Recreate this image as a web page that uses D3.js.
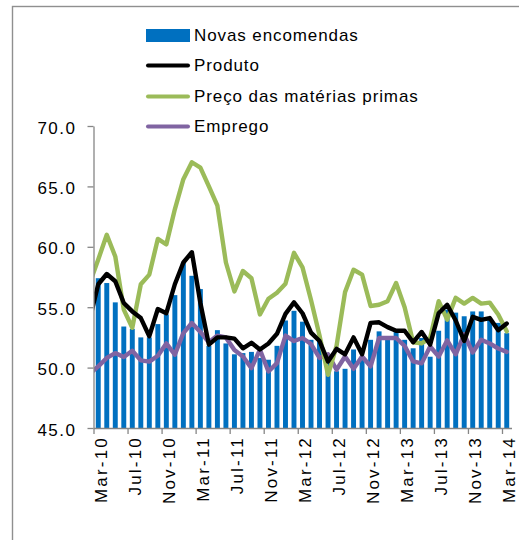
<!DOCTYPE html>
<html>
<head>
<meta charset="utf-8">
<script src="https://cdn.jsdelivr.net/npm/d3@7/dist/d3.min.js"></script>
<style>
  html, body { margin: 0; padding: 0; background: #fff; }
  svg { display: block; font-family: "Liberation Sans", Arial, sans-serif; }
</style>
</head>
<body>
<svg id="chart" width="519" height="540"></svg>
<script>
// ---- Data ----
const categories = ["Mar-10","Apr-10","May-10","Jun-10","Jul-10","Aug-10","Sep-10","Oct-10","Nov-10","Dec-10",
  "Jan-11","Feb-11","Mar-11","Apr-11","May-11","Jun-11","Jul-11","Aug-11","Sep-11","Oct-11","Nov-11","Dec-11",
  "Jan-12","Feb-12","Mar-12","Apr-12","May-12","Jun-12","Jul-12","Aug-12","Sep-12","Oct-12","Nov-12","Dec-12",
  "Jan-13","Feb-13","Mar-13","Apr-13","May-13","Jun-13","Jul-13","Aug-13","Sep-13","Oct-13","Nov-13","Dec-13",
  "Jan-14","Feb-14","Mar-14"];
// the line series also carry the month before the axis start (Feb-10), clipped by the plot area
const lineStart = "Feb-10";

const novasEncomendas = [57.4,57.0,55.4,53.4,53.2,52.5,52.5,53.6,54.4,56.0,
  58.7,57.6,56.5,51.8,53.1,52.0,51.1,51.2,51.3,50.8,50.65,51.8,
  53.9,54.7,53.8,52.3,52.3,50.4,49.7,49.9,51.5,50.9,52.3,53.0,
  52.3,53.1,52.3,51.6,52.45,50.9,53.05,54.8,54.55,54.25,54.65,54.65,
  53.95,53.7,52.85];

const produto = [54.0,
  56.9,57.75,57.15,55.35,54.65,54.1,52.6,54.85,54.5,56.9,
  58.7,59.55,55.35,51.9,52.5,52.5,52.4,51.6,52.05,51.5,52.0,52.8,
  54.45,55.4,54.5,52.9,52.2,50.5,51.55,51.1,52.5,51.1,53.7,53.75,
  53.35,53.05,53.05,52.1,52.95,51.9,54.5,55.2,53.9,52.2,54.2,53.95,
  54.1,53.1,53.65];

const precoMateriasPrimas = [57.0,
  58.95,61.0,59.2,54.8,53.3,56.9,57.7,60.65,60.2,63.1,
  65.6,67.0,66.55,65.0,63.4,58.7,56.3,58.0,57.4,54.4,55.7,56.2,
  56.95,59.5,58.3,55.6,52.65,49.4,51.8,56.25,58.1,57.7,55.1,55.2,
  55.5,57.0,55.0,52.1,52.0,52.45,55.5,53.97,55.77,55.3,55.77,55.3,
  55.38,54.4,53.0];

const emprego = [49.5,
  50.1,50.8,51.2,50.87,51.4,50.6,50.5,50.98,52.0,51.06,
  52.86,53.69,52.95,52.1,52.65,52.5,51.45,50.92,49.96,51.48,49.68,50.37,
  52.65,52.2,52.45,51.95,50.8,51.1,49.82,50.92,49.9,50.92,50.1,52.45,
  52.45,52.45,51.8,50.51,50.35,51.75,50.92,52.25,51.1,52.75,51.25,52.3,
  52.0,51.58,51.3];

const yTicks = [45,50,55,60,65,70];
const xTickLabels = ["Mar-10","Jul-10","Nov-10","Mar-11","Jul-11","Nov-11","Mar-12","Jul-12","Nov-12","Mar-13","Jul-13","Nov-13","Mar-14"];

const seriesNames = ["Novas encomendas","Produto","Preço das matérias primas","Emprego"];
const colors = { bars: "#0070C0", produto: "#000000", preco: "#9BBB59", emprego: "#8064A2" };

// ---- Layout ----
const svg = d3.select("#chart");
const plotL = 94, plotR = 511, plotT = 126, plotB = 428;
const axisColor = "#868686";

// outer frame (runs off the right and bottom edges)
svg.append("rect").attr("x", 12.5).attr("y", 6.5).attr("width", 560).attr("height", 580)
  .attr("fill", "none").attr("stroke", "#8f8f8f").attr("stroke-width", 1.4);

const y = d3.scaleLinear().domain([45, 70]).range([plotB, plotT]);
const x = d3.scaleBand().domain(categories).range([plotL, plotR]).paddingInner(0.42).paddingOuter(0.21);
const xi = d3.scaleLinear().domain([-0.5, categories.length - 0.5]).range([plotL, plotR]);

// bars
svg.append("g").selectAll("rect").data(novasEncomendas).join("rect")
  .attr("x", (d, i) => x(categories[i]))
  .attr("width", x.bandwidth())
  .attr("y", d => y(d))
  .attr("height", d => y(45) - y(d))
  .attr("fill", colors.bars);

// clip for lines
svg.append("clipPath").attr("id", "plotClip").append("rect")
  .attr("x", plotL).attr("y", 0).attr("width", 440).attr("height", 540);

const lineGen = d3.line().x((d, i) => xi(i - 1)).y(d => y(d)).curve(d3.curveLinear);
const lines = [
  { data: emprego, color: colors.emprego },
  { data: precoMateriasPrimas, color: colors.preco },
  { data: produto, color: colors.produto }
];
const lg = svg.append("g").attr("clip-path", "url(#plotClip)");
lines.forEach(s => {
  lg.append("path").datum(s.data).attr("d", lineGen)
    .attr("fill", "none").attr("stroke", s.color).attr("stroke-width", 4.4)
    .attr("stroke-linejoin", "round").attr("stroke-linecap", "round");
});

// y axis
const yAxis = svg.append("g").attr("transform", "translate(93.5,0)")
  .call(d3.axisLeft(y).tickValues(yTicks).tickFormat(d3.format(".1f")).tickSize(6).tickSizeOuter(0).tickPadding(11));
yAxis.select(".domain").attr("stroke", axisColor).attr("stroke-width", 1.3);
yAxis.selectAll(".tick line").attr("stroke", axisColor).attr("stroke-width", 1.3);
yAxis.selectAll(".tick text").attr("font-size", 17).attr("fill", "#000")
  .attr("letter-spacing", "1.5px").attr("dy", "0.42em")
  .attr("font-family", "'Liberation Sans', Arial, sans-serif");

// x axis line
const xg = svg.append("g");
xg.append("line").attr("x1", plotL).attr("x2", plotR + 1).attr("y1", plotB + 0.5).attr("y2", plotB + 0.5)
  .attr("stroke", axisColor).attr("stroke-width", 1.3);
xg.selectAll("line.tk").data(xTickLabels).join("line").attr("class", "tk")
  .attr("x1", d => x(d) - x.step() * x.paddingInner() / 2).attr("x2", d => x(d) - x.step() * x.paddingInner() / 2)
  .attr("y1", plotB).attr("y2", plotB + 6)
  .attr("stroke", axisColor).attr("stroke-width", 1.3);
xg.selectAll("text").data(xTickLabels).join("text")
  .attr("transform", d => `translate(${x(d) + x.bandwidth() / 2 + 2.5},${plotB + 8}) rotate(-90)`)
  .attr("text-anchor", "end").attr("dy", "0.35em")
  .attr("font-size", 17).attr("letter-spacing", "2.2px").attr("fill", "#000")
  .text(d => d);

// legend
const legendRows = [35.5, 65.5, 96.5, 126.5];
const leg = svg.append("g");
seriesNames.forEach((name, i) => {
  const cy = legendRows[i];
  if (i === 0) {
    leg.append("rect").attr("x", 146).attr("y", cy - 6.5).attr("width", 44).attr("height", 13).attr("fill", colors.bars);
  } else {
    const c = [null, colors.produto, colors.preco, colors.emprego][i];
    leg.append("line").attr("x1", 148).attr("x2", 188).attr("y1", cy).attr("y2", cy)
      .attr("stroke", c).attr("stroke-width", 4).attr("stroke-linecap", "round");
  }
  leg.append("text").attr("x", 194).attr("y", cy + 5.8)
    .attr("font-size", 17).attr("letter-spacing", "0.9px").attr("fill", "#000")
    .text(name);
});
</script>
</body>
</html>
